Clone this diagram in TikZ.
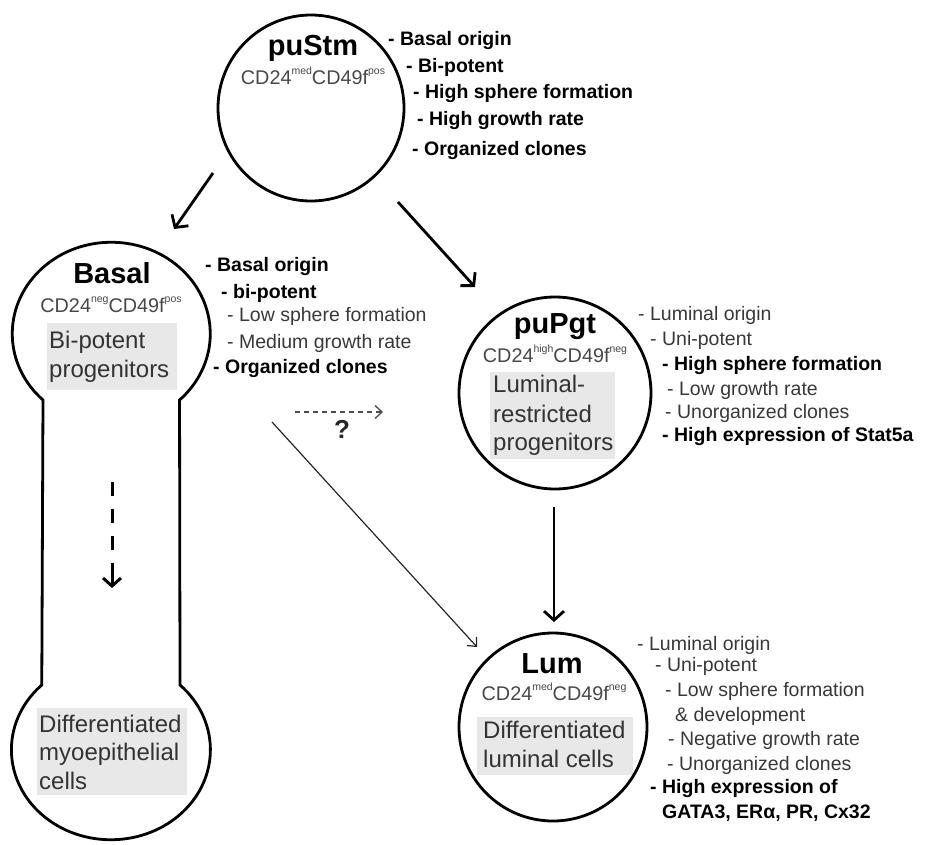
\documentclass[tikz,border=0pt]{standalone}
\usepackage{fontspec}
\setmainfont{Liberation Sans}
\usetikzlibrary{arrows.meta}
\newcommand{\sidefont}{\fontsize{19.5}{23}\selectfont}
\newcommand{\titlefont}{\fontsize{29}{33}\selectfont}
\newcommand{\cdfont}{\fontsize{19.8}{22}\selectfont}
\newcommand{\boxfont}{\fontsize{24}{28}\selectfont}
\newcommand{\mysup}[1]{\raisebox{0.5em}{\fontsize{10.5}{11}\selectfont #1}}
\begin{document}
\begin{tikzpicture}[x=1pt,y=-1pt,
  cell/.style={circle, draw, line width=2.8pt, inner sep=0pt},
  shapeline/.style={draw, line width=2.8pt, line join=miter},
  sb/.style={anchor=mid west, inner sep=0pt, font=\sidefont\bfseries, text=black},
  sr/.style={anchor=mid west, inner sep=0pt, font=\sidefont, text=black!78},
  ttl/.style={anchor=base, inner sep=0pt, font=\titlefont\bfseries},
  cdl/.style={anchor=base, inner sep=0pt, font=\cdfont, text=black!72},
  bt/.style={anchor=base west, inner sep=0pt, font=\boxfont, text=black!80},
  gbox/.style={fill=black!9},
  thickarr/.style={line width=2.8pt, -{Straight Barb[length=9pt,width=20pt]}},
  thinarr/.style={line width=1.2pt, black!85, -{Straight Barb[length=7pt,width=13pt]}},
  qarr/.style={line width=1.3pt, black!70, dash pattern=on 5pt off 4pt, -{Straight Barb[length=7pt,width=13pt]}},
  dashline/.style={line width=3pt, dash pattern=on 14pt off 13pt},
  dashhead/.style={line width=3pt, -{Straight Barb[length=8pt,width=18pt]}}
]
\useasboundingbox (0,0) rectangle (927,844);

% ---------- gray boxes ----------
\fill[gbox] (47,323) rectangle (177,390);
\fill[gbox] (490,372) rectangle (615,459);
\fill[gbox] (477,717) rectangle (633,775);
\fill[gbox] (37,708) rectangle (187,795);

% ---------- cells ----------
\node[cell, minimum size=186pt] (pustm) at (311,108) {};
\node[cell, minimum size=192pt] (pupgt) at (555,393) {};
\node[cell, minimum size=188pt] (lum) at (553,727) {};
\draw[shapeline] (43,400) arc[start angle=133.6, end angle=406.4, x radius=99, y radius=91.5]
  -- (180,685) arc[start angle=-46, end angle=226, x radius=99.5, y radius=90] -- cycle;

% ---------- titles and markers ----------
\node[ttl] (t1) at (313,55) {puStm};
\node[cdl] (c1) at (313,84) {CD24\mysup{med}CD49f\mysup{pos}};
\node[ttl] (t2) at (112,283) {Basal};
\node[cdl] (c2) at (111,312) {CD24\mysup{neg}CD49f\mysup{pos}};
\node[ttl] (t3) at (555,333) {puPgt};
\node[cdl] (c3) at (555,362) {CD24\mysup{high}CD49f\mysup{neg}};
\node[ttl] (t4) at (552,673) {Lum};
\node[cdl] (c4) at (554,700) {CD24\mysup{med}CD49f\mysup{neg}};

% ---------- box texts ----------
\node[bt] (b1a) at (49,348) {Bi-potent};
\node[bt] (b1b) at (49,377) {progenitors};
\node[bt] (b2a) at (493,392) {Luminal-};
\node[bt] (b2b) at (493,422) {restricted};
\node[bt] (b2c) at (493,450) {progenitors};
\node[bt] (b3a) at (483,738) {Differentiated};
\node[bt] (b3b) at (483,767) {luminal cells};
\node[bt] (b4a) at (39,732) {Differentiated};
\node[bt] (b4b) at (39,760) {myoepithelial};
\node[bt] (b4c) at (39,789) {cells};

% ---------- side texts ----------
\node[sb] (s11) at (388,43) {- Basal origin};
\node[sb] (s12) at (406,70) {- Bi-potent};
\node[sb] (s13) at (413,96) {- High sphere formation};
\node[sb] (s14) at (417,123) {- High growth rate};
\node[sb] (s15) at (412,153) {- Organized clones};

\node[sb] (s21) at (205,269) {- Basal origin};
\node[sb] (s22) at (221,296) {- bi-potent};
\node[sr] (s23) at (227,319) {- Low sphere formation};
\node[sr] (s24) at (227,346) {- Medium growth rate};
\node[sb] (s25) at (213,371) {- Organized clones};

\node[sr] (s31) at (638,318) {- Luminal origin};
\node[sr] (s32) at (650,343) {- Uni-potent};
\node[sb] (s33) at (662,368) {- High sphere formation};
\node[sr] (s34) at (667,393) {- Low growth rate};
\node[sr] (s35) at (665,416) {- Unorganized clones};
\node[sb] (s36) at (662,439) {- High expression of Stat5a};

\node[sr] (s41) at (637,648) {- Luminal origin};
\node[sr] (s42) at (655,669) {- Uni-potent};
\node[sr] (s43) at (665,694) {- Low sphere formation};
\node[sr] (s44) at (675,719) {\& development};
\node[sr] (s45) at (668,743) {- Negative growth rate};
\node[sr] (s46) at (667,768) {- Unorganized clones};
\node[sb] (s47) at (650,791) {- High expression of};
\node[sb] (s48) at (662,816) {GATA3, ERα, PR, Cx32};

% ---------- connectors ----------
\coordinate (a1s) at (213,173); \coordinate (a1e) at (174,229);
\coordinate (a2s) at (398,202); \coordinate (a2e) at (475,287);
\coordinate (a3s) at (554,507); \coordinate (a3e) at (554,622);
\coordinate (a4s) at (272,422); \coordinate (a4e) at (477,647);
\coordinate (a5s) at (295,412); \coordinate (a5e) at (383,412);
\coordinate (a6s) at (112,482); \coordinate (a6m) at (112,551);
\coordinate (a6n) at (112,563); \coordinate (a6e) at (112,588);

\draw[thickarr] (a1s) -- (a1e);
\draw[thickarr] (a2s) -- (a2e);
\draw[thickarr] (a3s) -- (a3e);
\draw[thinarr] (a4s) -- (a4e);
\draw[qarr] (a5s) -- (a5e);
\draw[dashline] (a6s) -- (a6m);
\draw[dashhead] (a6n) -- (a6e);
\node[anchor=base, inner sep=0pt, font=\fontsize{26}{30}\selectfont\bfseries, text=black!85] (q) at (342,438) {?};
\end{tikzpicture}
\end{document}
